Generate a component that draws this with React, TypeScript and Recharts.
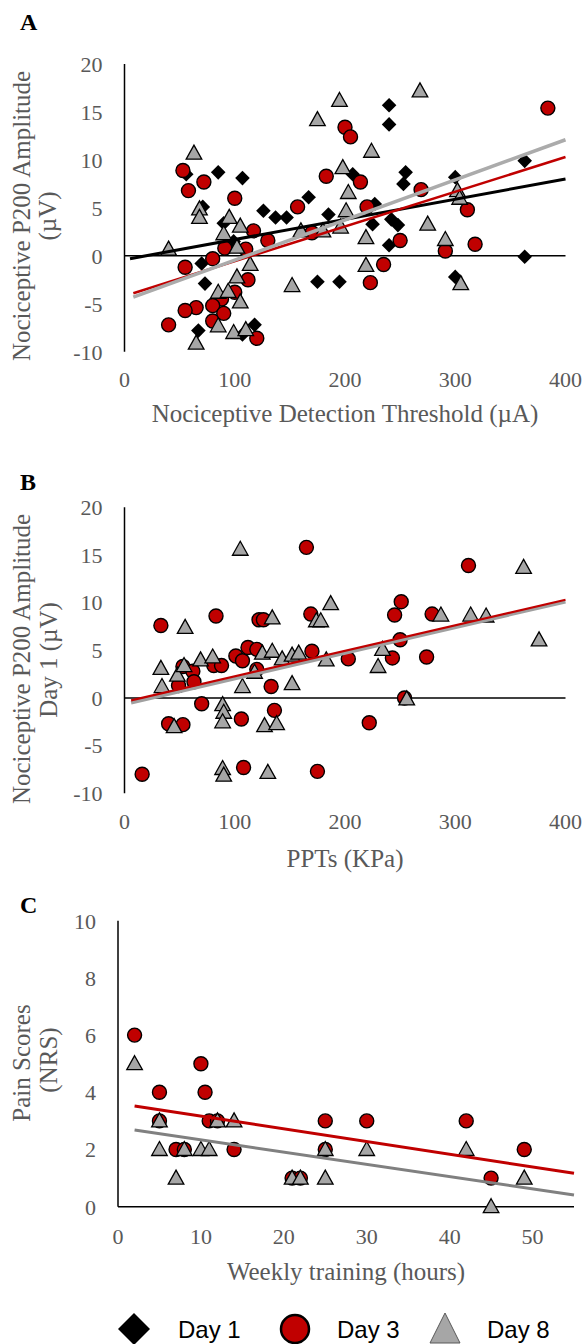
import React from 'react';
import { ScatterChart, Scatter, XAxis, YAxis } from 'recharts';

const SERIF = '"Liberation Serif", "Times New Roman", serif';
const SANS = '"Liberation Sans", Arial, sans-serif';
const RED = '#C00000';
const GREY = '#A6A6A6';
const TEXT_GREY = '#595959';
const TICK = { fill: TEXT_GREY, fontSize: 22, fontFamily: SERIF };

// Panel A: nociceptive detection threshold (uA) vs P200 amplitude (uV)
const ndtDay1 = [
  [56, 8.5], [85, 8.7], [107, 8.1], [71, 5.1], [126, 4.7], [137, 4.0], [147, 4.0], [167, 6.1],
  [185, 4.3], [207, 8.5], [227, 5.4], [225, 3.3], [240, 15.7], [240, 13.7], [242, 3.8], [248, 3.2],
  [253, 7.5], [255, 8.7], [240, 1.1], [300, 8.2], [300, -2.2], [363, 9.9], [363, -0.1], [175, -2.7],
  [195, -2.7], [73, -2.9], [67, -7.8], [118, -7.2], [107, -8.2], [70, -0.8], [90, 3.4], [99, 1.5],
];
const ndtDay3 = [
  [53, 8.9], [58, 6.8], [72, 7.7], [100, 6.0], [55, -1.2], [80, -0.3], [91, 0.8], [110, 0.7],
  [117, 2.6], [130, 1.6], [112, -2.5], [100, -3.8], [88, -4.5], [80, -5.2], [65, -5.4], [55, -5.7],
  [40, -7.2], [80, -6.8], [90, -6.0], [120, -8.6], [157, 5.1], [183, 8.3], [200, 13.4], [205, 12.4],
  [214, 7.7], [220, 5.1], [250, 1.6], [235, -0.9], [223, -2.8], [269, 6.9], [291, 0.5], [311, 4.8],
  [318, 1.2], [384, 15.4], [170, 2.4],
];
const ndtDay8 = [
  [40, 0.7], [63, 10.7], [68, 4.9], [68, 4.0], [90, 2.3], [95, 4.0], [105, 3.1], [102, 0.9],
  [114, -0.9], [102, -2.2], [105, -4.8], [85, -3.8], [94, -3.7], [85, -7.3], [99, -8.0], [110, -7.7],
  [65, -9.1], [152, -3.1], [160, 2.6], [175, 14.2], [195, 16.2], [198, 9.2], [203, 6.6], [201, 4.7],
  [196, 3.0], [219, 1.9], [219, -1.0], [224, 10.9], [268, 17.2], [275, 3.3], [291, 1.7], [302, 6.8],
  [304, 6.0], [305, -2.9], [180, 2.6],
];
const ndtTrend1 = [[5, -0.3], [400, 8.0]];
const ndtTrend3 = [[8, -3.9], [400, 10.3]];
const ndtTrend8 = [[8, -4.3], [400, 12.1]];

// Panel B: PPTs (KPa) vs P200 amplitude day 1 (uV)
const pptDay3 = [
  [16, -8.0], [33, 7.6], [40, -2.7], [53, -2.8], [49, 1.3], [53, 3.3], [62, 2.8], [63, 1.7],
  [70, -0.6], [83, 8.6], [81, 3.4], [88, 3.4], [101, 4.4], [107, 3.9], [112, 5.3], [120, 5.1],
  [106, -2.2], [108, -7.3], [122, 8.2], [126, 8.2], [120, 3.0], [133, 1.2], [136, -1.3], [165, 15.8],
  [169, 8.8], [170, 4.9], [175, -7.7], [203, 4.1], [222, -2.6], [243, 4.2], [245, 8.7], [250, 6.1],
  [251, 10.1], [254, 0.0], [274, 4.3], [279, 8.8], [312, 13.9],
];
const pptDay8 = [
  [33, 3.1], [34, 1.2], [48, 2.4], [45, -3.0], [54, 3.4], [55, 7.4], [69, 4.0], [80, 4.3],
  [89, -0.7], [90, -1.5], [89, -2.5], [89, -7.4], [90, -8.1], [105, 15.6], [107, 1.2], [118, 2.7],
  [125, 4.7], [134, 8.4], [134, 4.9], [127, -2.9], [138, -2.7], [130, -7.8], [143, 4.1], [152, 4.5],
  [152, 1.5], [158, 4.7], [174, 8.1], [178, 8.1], [183, 4.0], [187, 9.9], [230, 3.3], [234, 5.1],
  [256, -0.1], [287, 8.7], [314, 8.7], [328, 8.6], [362, 13.7], [376, 6.1],
];
const pptTrend3 = [[6, -0.25], [400, 10.3]];
const pptTrend8 = [[6, -0.5], [400, 10.1]];

// Panel C: weekly training (hours) vs pain scores (NRS)
const trainDay3 = [
  [2, 6], [5, 4], [5, 3], [7, 2], [8, 2], [10, 5], [10.5, 4], [11, 3], [12, 3], [14, 2],
  [21, 1], [22, 1], [25, 3], [25, 2], [30, 3], [42, 3], [45, 1], [49, 2],
];
const trainDay8 = [
  [2, 5], [5, 3], [5, 2], [7, 1], [8, 2], [10, 2], [11, 2], [12, 3], [14, 3],
  [21, 1], [22, 1], [25, 2], [25, 1], [30, 2], [42, 2], [45, 0], [49, 1],
];
const trainTrend3 = [[2, 3.52], [55, 1.17]];
const trainTrend8 = [[2, 2.68], [55, 0.41]];

const ampTicks = [-10, -5, 0, 5, 10, 15, 20];
const ampXTicks = [0, 100, 200, 300, 400];
const painTicks = [0, 2, 4, 6, 8, 10];
const hourTicks = [0, 10, 20, 30, 40, 50];

const toPts = (rows: number[][]) => rows.map(([x, y]) => ({ x, y }));

const Diamond = (p: any) => {
  const r = 7.3;
  return (
    <polygon
      points={`${p.cx},${p.cy - r} ${p.cx + r},${p.cy} ${p.cx},${p.cy + r} ${p.cx - r},${p.cy}`}
      fill='#000'
    />
  );
};
const Dot = (p: any) => <circle cx={p.cx} cy={p.cy} r={7} fill={RED} stroke='#000' strokeWidth={1.4} />;
const Tri = (p: any) => (
  <polygon
    points={`${p.cx},${p.cy - 8} ${p.cx + 7.8},${p.cy + 6} ${p.cx - 7.8},${p.cy + 6}`}
    fill={GREY}
    stroke='#000'
    strokeWidth={1.3}
  />
);
const Nothing = () => <g />;

const trendLine = (rows: number[][], stroke: string, width: number, key: string) => (
  <Scatter
    key={key}
    data={toPts(rows)}
    line={{ stroke, strokeWidth: width }}
    shape={Nothing}
    isAnimationActive={false}
    legendType='none'
  />
);

interface AmpPanelProps {
  top: number;
  marginTop: number;
  marginBottom: number;
  day1?: number[][];
  day3: number[][];
  day8: number[][];
  trends: React.ReactNode[];
}

const AmpPanel = ({ top, marginTop, marginBottom, day1, day3, day8, trends }: AmpPanelProps) => (
  <div style={{ position: 'absolute', left: 0, top }}>
    <ScatterChart width={587} height={440} margin={{ top: marginTop, right: 21.5, bottom: marginBottom, left: 0 }}>
      <XAxis
        type='number'
        dataKey='x'
        domain={[0, 400]}
        ticks={ampXTicks}
        axisLine={false}
        tickLine={false}
        tickSize={0}
        tickMargin={20}
        height={40}
        tick={TICK}
      />
      <YAxis
        type='number'
        dataKey='y'
        domain={[-10, 20]}
        ticks={ampTicks}
        axisLine={{ stroke: '#000', strokeWidth: 1.5 }}
        tickLine={false}
        tickSize={0}
        tickMargin={22}
        width={124.5}
        tick={TICK}
      />
      {trendLine([[0, 0], [400, 0]], '#000', 1.5, 'zero')}
      {day1 && <Scatter data={toPts(day1)} shape={Diamond} isAnimationActive={false} />}
      <Scatter data={toPts(day3)} shape={Dot} isAnimationActive={false} />
      <Scatter data={toPts(day8)} shape={Tri} isAnimationActive={false} />
      {trends}
    </ScatterChart>
  </div>
);

const rotated = (x: number, y: number, text: string) => (
  <text
    x={x}
    y={y}
    transform={`rotate(-90 ${x} ${y})`}
    textAnchor='middle'
    dominantBaseline='central'
    fontFamily={SERIF}
    fontSize={25}
    fill={TEXT_GREY}
  >
    {text}
  </text>
);

const title = (x: number, y: number, text: string) => (
  <text x={x} y={y} textAnchor='middle' fontFamily={SERIF} fontSize={25} fill={TEXT_GREY}>
    {text}
  </text>
);

const letter = (y: number, text: string) => (
  <text x={20} y={y} fontFamily={SERIF} fontSize={24} fontWeight='bold' fill='#000'>
    {text}
  </text>
);

export default function App() {
  return (
    <div style={{ position: 'absolute', left: 0, top: 0, width: 587, height: 1344, background: '#fff', overflow: 'hidden' }}>
      <AmpPanel
        top={0}
        marginTop={64}
        marginBottom={48.3}
        day1={ndtDay1}
        day3={ndtDay3}
        day8={ndtDay8}
        trends={[
          trendLine(ndtTrend1, '#000', 3, 't1'),
          trendLine(ndtTrend3, RED, 2.5, 't3'),
          trendLine(ndtTrend8, '#ABABAB', 3.5, 't8'),
        ]}
      />
      <AmpPanel
        top={440}
        marginTop={67.3}
        marginBottom={46.7}
        day3={pptDay3}
        day8={pptDay8}
        trends={[trendLine(pptTrend8, '#A0A0A0', 3.5, 't8'), trendLine(pptTrend3, RED, 2.2, 't3')]}
      />
      <div style={{ position: 'absolute', left: 0, top: 880 }}>
        <ScatterChart width={587} height={400} margin={{ top: 40.7, right: 13, bottom: 33.3, left: 0 }}>
          <XAxis
            type='number'
            dataKey='x'
            domain={[0, 55]}
            ticks={hourTicks}
            axisLine={{ stroke: '#000', strokeWidth: 1.5 }}
            tickLine={false}
            tickSize={0}
            tickMargin={22}
            height={40}
            tick={TICK}
          />
          <YAxis
            type='number'
            dataKey='y'
            domain={[0, 10]}
            ticks={painTicks}
            axisLine={{ stroke: '#000', strokeWidth: 1.5 }}
            tickLine={false}
            tickSize={0}
            tickMargin={22}
            width={118}
            tick={TICK}
          />
          <Scatter data={toPts(trainDay3)} shape={Dot} isAnimationActive={false} />
          <Scatter data={toPts(trainDay8)} shape={Tri} isAnimationActive={false} />
          {trendLine(trainTrend3, RED, 3, 'c3')}
          {trendLine(trainTrend8, '#808080', 3, 'c8')}
        </ScatterChart>
      </div>
      <svg width={587} height={1344} style={{ position: 'absolute', left: 0, top: 0, pointerEvents: 'none' }}>
        {letter(30, 'A')}
        {rotated(21, 216, 'Nociceptive P200 Amplitude')}
        {rotated(47, 216, '(µV)')}
        {title(345, 422, 'Nociceptive Detection Threshold (µA)')}

        {letter(490, 'B')}
        {rotated(21, 659, 'Nociceptive P200 Amplitude')}
        {rotated(48.7, 660, 'Day 1 (µV)')}
        {title(345, 867, 'PPTs (KPa)')}

        {letter(913, 'C')}
        {rotated(21, 1063, 'Pain Scores')}
        {rotated(48.7, 1060, '(NRS)')}
        {title(346, 1280, 'Weekly training (hours)')}

        <polygon points='134,1313 150,1329 134,1345 118,1329' fill='#000' />
        <text x={178} y={1338} fontFamily={SANS} fontSize={24} fill='#000'>Day 1</text>
        <circle cx={295} cy={1329} r={14} fill={RED} stroke='#000' strokeWidth={2.5} />
        <text x={337} y={1338} fontFamily={SANS} fontSize={24} fill='#000'>Day 3</text>
        <polygon points='445,1313 460,1343 430,1343' fill={GREY} stroke={TEXT_GREY} strokeWidth={1} />
        <text x={487} y={1338} fontFamily={SANS} fontSize={24} fill='#000'>Day 8</text>
      </svg>
    </div>
  );
}
